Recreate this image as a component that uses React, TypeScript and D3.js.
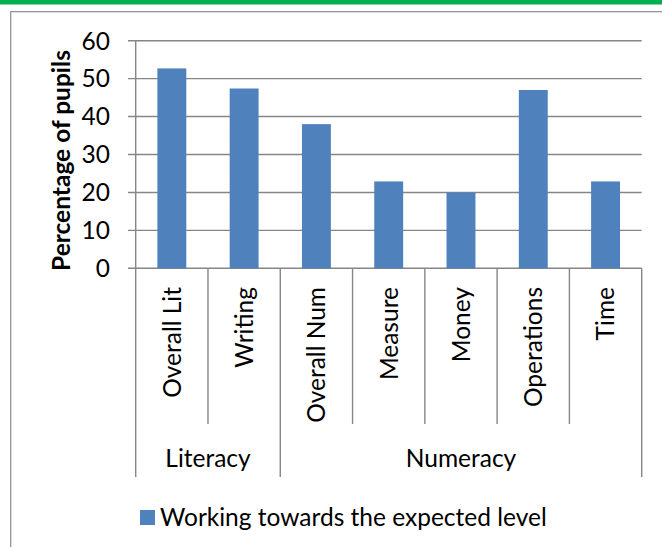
import React from "react";
import * as d3 from "d3";

const categories = ["Overall Lit", "Writing", "Overall Num", "Measure", "Money", "Operations", "Time"];
const values = [52.7, 47.4, 38.0, 22.9, 20.0, 47.0, 22.9];
const groups = ["Literacy", "Numeracy"];
const groupSizes = [2, 5];
const yTicks = [0, 10, 20, 30, 40, 50, 60];
const seriesName = "Working towards the expected level";
const yTitle = "Percentage of pupils";

const W = 662;
const H = 547;
const FONT = "Lato, 'Open Sans', sans-serif";
const FS = 24.5;
const GRID = "#868686";
const BAR = "#4F81BD";

export default function App() {
  const left = 135.7;
  const right = 641.7;
  const top = 40.7;
  const bottom = 268.3;

  const x = d3.scaleBand<string>().domain(categories).range([left, right]).paddingInner(0.6).paddingOuter(0.3);
  const y = d3.scaleLinear().domain([0, 60]).range([bottom, top]);
  const step = x.step();

  const innerEnd = 424;
  const outerEnd = 477;

  const bounds: number[] = [0];
  groupSizes.forEach((s, i) => bounds.push(bounds[i] + s));

  return (
    <svg width={W} height={H} style={{ position: "absolute", left: 0, top: 0 }} fontFamily={FONT}>
      <rect x={0} y={0} width={W} height={H} fill="#fff" />
      <rect x={0} y={0} width={W} height={4.5} fill="#00B050" />
      <rect x={10.7} y={11.7} width={700} height={600} fill="none" stroke="#8c8c8c" strokeWidth={1.2} />

      {yTicks.map((t) => (
        <g key={t}>
          <line x1={128} x2={right} y1={y(t)} y2={y(t)} stroke={GRID} strokeWidth={1.4} />
          <text x={110} y={y(t)} dy="0.36em" textAnchor="end" fontSize={FS} fill="#000">
            {t}
          </text>
        </g>
      ))}
      <line x1={left} x2={left} y1={top} y2={bottom} stroke={GRID} strokeWidth={1.4} />

      {categories.map((c, i) => (
        <rect key={c} x={x(c)} y={y(values[i])} width={x.bandwidth()} height={bottom - y(values[i])} fill={BAR} />
      ))}

      {d3.range(categories.length + 1).map((i) => {
        const isOuter = bounds.includes(i);
        return (
          <line
            key={i}
            x1={left + i * step}
            x2={left + i * step}
            y1={bottom}
            y2={isOuter ? outerEnd : innerEnd}
            stroke={GRID}
            strokeWidth={1.4}
          />
        );
      })}

      {categories.map((c) => {
        const cx = (x(c) as number) + x.bandwidth() / 2;
        return (
          <text
            key={c}
            transform={`translate(${cx},287) rotate(-90)`}
            dy="0.36em"
            textAnchor="end"
            fontSize={FS}
            fill="#000"
          >
            {c}
          </text>
        );
      })}

      {groups.map((g, i) => {
        const gx = left + ((bounds[i] + bounds[i + 1]) / 2) * step;
        return (
          <text key={g} x={gx} y={467} textAnchor="middle" fontSize={FS} fill="#000">
            {g}
          </text>
        );
      })}

      <text
        transform={`translate(70,160.5) rotate(-90)`}
        textAnchor="middle"
        fontSize={FS}
        fontWeight="bold"
        fill="#000"
      >
        {yTitle}
      </text>

      <rect x={140} y={510} width={15} height={15} fill={BAR} />
      <text x={160} y={525.5} fontSize={FS} fill="#000">
        {seriesName}
      </text>
    </svg>
  );
}
